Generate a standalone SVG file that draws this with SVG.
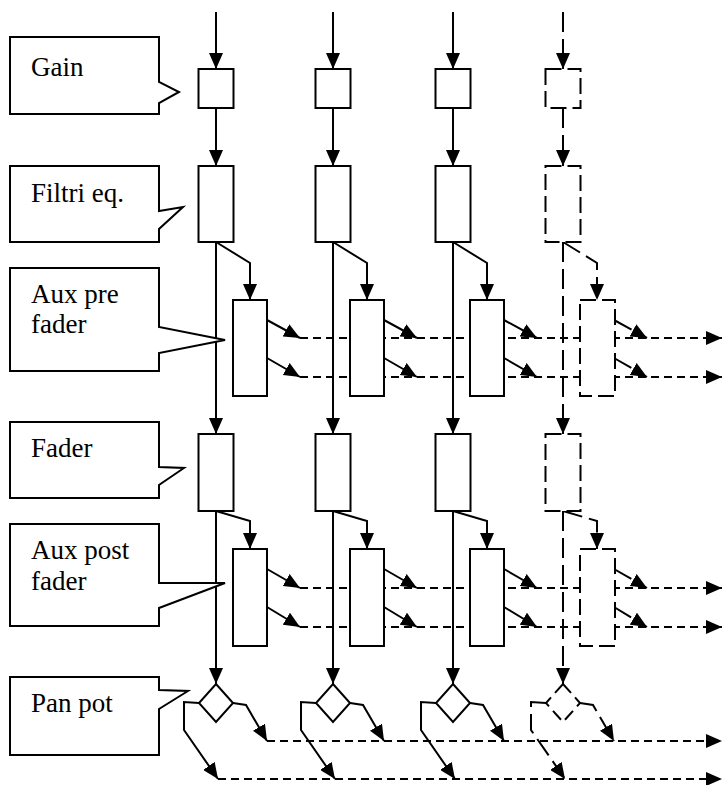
<svg xmlns="http://www.w3.org/2000/svg" width="722" height="785" viewBox="0 0 722 785">
<style>
.c{fill:none;stroke:#000;stroke-width:2}
.bus{stroke-dasharray:8 5}
.dl{stroke-dasharray:20 7}
.box{fill:#fff;stroke:#000;stroke-width:2}
.dbox{fill:#fff;stroke:#000;stroke-width:2;stroke-dasharray:16 6}
.call{fill:#fff;stroke:#000;stroke-width:2;stroke-linejoin:miter}
.t{font-family:'Liberation Serif','Times New Roman',serif;font-size:27px;fill:#000}
</style>
<defs>
<marker id="ah" markerUnits="userSpaceOnUse" markerWidth="16" markerHeight="14" refX="16" refY="7" orient="auto" viewBox="0 0 16 14">
<path d="M0,0 L16,7 L0,14 Z" fill="#000"/>
</marker>
</defs>
<g id="connectors">
<path class="c bus" marker-end="url(#ah)" d="M300,338 H722"/>
<path class="c bus" marker-end="url(#ah)" d="M300,377 H722"/>
<path class="c bus" marker-end="url(#ah)" d="M300,588 H722"/>
<path class="c bus" marker-end="url(#ah)" d="M300,627 H722"/>
<path class="c bus" marker-end="url(#ah)" d="M267,741 H722"/>
<path class="c bus" marker-end="url(#ah)" d="M218,779 H722"/>
<g id="col1-links">
<path class="c" marker-end="url(#ah)" d="M216,12 V69"/>
<path class="c" marker-end="url(#ah)" d="M216,108 V166"/>
<path class="c" marker-end="url(#ah)" d="M216,242 V434"/>
<path class="c" marker-end="url(#ah)" d="M216,242 L250,263 V300"/>
<path class="c" marker-end="url(#ah)" d="M267,320 L300,338"/>
<path class="c" marker-end="url(#ah)" d="M267,358 L300,377"/>
<path class="c" marker-end="url(#ah)" d="M216,511 V684"/>
<path class="c" marker-end="url(#ah)" d="M216,511 L250,521 V549"/>
<path class="c" marker-end="url(#ah)" d="M267,569 L300,588"/>
<path class="c" marker-end="url(#ah)" d="M267,607 L300,627"/>
<path class="c" marker-end="url(#ah)" d="M199,703 L184,702 V730 L218,779"/>
<path class="c" marker-end="url(#ah)" d="M233,703 L246,705 L267,741"/>
</g>
<g id="col2-links" transform="translate(117,0)">
<path class="c" marker-end="url(#ah)" d="M216,12 V69"/>
<path class="c" marker-end="url(#ah)" d="M216,108 V166"/>
<path class="c" marker-end="url(#ah)" d="M216,242 V434"/>
<path class="c" marker-end="url(#ah)" d="M216,242 L250,263 V300"/>
<path class="c" marker-end="url(#ah)" d="M267,320 L300,338"/>
<path class="c" marker-end="url(#ah)" d="M267,358 L300,377"/>
<path class="c" marker-end="url(#ah)" d="M216,511 V684"/>
<path class="c" marker-end="url(#ah)" d="M216,511 L250,521 V549"/>
<path class="c" marker-end="url(#ah)" d="M267,569 L300,588"/>
<path class="c" marker-end="url(#ah)" d="M267,607 L300,627"/>
<path class="c" marker-end="url(#ah)" d="M199,703 L184,702 V730 L218,779"/>
<path class="c" marker-end="url(#ah)" d="M233,703 L246,705 L267,741"/>
</g>
<g id="col3-links" transform="translate(237,0)">
<path class="c" marker-end="url(#ah)" d="M216,12 V69"/>
<path class="c" marker-end="url(#ah)" d="M216,108 V166"/>
<path class="c" marker-end="url(#ah)" d="M216,242 V434"/>
<path class="c" marker-end="url(#ah)" d="M216,242 L250,263 V300"/>
<path class="c" marker-end="url(#ah)" d="M267,320 L300,338"/>
<path class="c" marker-end="url(#ah)" d="M267,358 L300,377"/>
<path class="c" marker-end="url(#ah)" d="M216,511 V684"/>
<path class="c" marker-end="url(#ah)" d="M216,511 L250,521 V549"/>
<path class="c" marker-end="url(#ah)" d="M267,569 L300,588"/>
<path class="c" marker-end="url(#ah)" d="M267,607 L300,627"/>
<path class="c" marker-end="url(#ah)" d="M199,703 L184,702 V730 L218,779"/>
<path class="c" marker-end="url(#ah)" d="M233,703 L246,705 L267,741"/>
</g>
<g id="col4-links" transform="translate(347,0)">
<path class="c dl" marker-end="url(#ah)" d="M216,12 V69"/>
<path class="c dl" marker-end="url(#ah)" d="M216,108 V166"/>
<path class="c dl" marker-end="url(#ah)" d="M216,242 V434"/>
<path class="c dl" marker-end="url(#ah)" d="M216,242 L250,263 V300"/>
<path class="c dl" marker-end="url(#ah)" d="M267,320 L300,338"/>
<path class="c dl" marker-end="url(#ah)" d="M267,358 L300,377"/>
<path class="c dl" marker-end="url(#ah)" d="M216,511 V684"/>
<path class="c dl" marker-end="url(#ah)" d="M216,511 L250,521 V549"/>
<path class="c dl" marker-end="url(#ah)" d="M267,569 L300,588"/>
<path class="c dl" marker-end="url(#ah)" d="M267,607 L300,627"/>
<path class="c dl" marker-end="url(#ah)" d="M199,703 L184,702 V730 L218,779"/>
<path class="c dl" marker-end="url(#ah)" d="M233,703 L246,705 L267,741"/>
</g>
</g>
<g id="callout-gain"><path class="call" d="M10,37 H159 V82 L179,92 L159,103 V114 H10 Z"/><text class="t" x="31" y="76">Gain</text></g>
<g id="callout-filtri"><path class="call" d="M10,166 H159 V211 L183,207 L159,229 V242 H10 Z"/><text class="t" x="31" y="202">Filtri eq.</text></g>
<g id="callout-auxpre"><path class="call" d="M10,268 H159 V327 L225,340 L159,353 V371 H10 Z"/><text class="t" x="31" y="303">Aux pre</text><text class="t" x="31" y="333">fader</text></g>
<g id="callout-fader"><path class="call" d="M10,422 H159 V467 L184,468 L159,485 V498 H10 Z"/><text class="t" x="31" y="457">Fader</text></g>
<g id="callout-auxpost"><path class="call" d="M10,524 H159 V583 L225,583 L159,608 V626 H10 Z"/><text class="t" x="31" y="559">Aux post</text><text class="t" x="31" y="590">fader</text></g>
<g id="callout-panpot"><path class="call" d="M10,677 H159 V690 L188,691 L159,709 V755 H10 Z"/><text class="t" x="31" y="712">Pan pot</text></g>
<g id="c1-gain"><rect class="box" x="198.5" y="69" width="35" height="39"/></g>
<g id="c1-filtri"><rect class="box" x="198.5" y="166" width="35" height="76"/></g>
<g id="c1-auxpre"><rect class="box" x="233" y="300" width="34" height="96"/></g>
<g id="c1-fader"><rect class="box" x="198.5" y="434" width="35" height="77"/></g>
<g id="c1-auxpost"><rect class="box" x="233" y="549" width="34" height="97"/></g>
<g id="c1-pan"><path class="box" d="M216,684 L233,703 L216,722 L199,703 Z"/></g>
<g id="c2-gain"><rect class="box" x="315.5" y="69" width="35" height="39"/></g>
<g id="c2-filtri"><rect class="box" x="315.5" y="166" width="35" height="76"/></g>
<g id="c2-auxpre"><rect class="box" x="350" y="300" width="34" height="96"/></g>
<g id="c2-fader"><rect class="box" x="315.5" y="434" width="35" height="77"/></g>
<g id="c2-auxpost"><rect class="box" x="350" y="549" width="34" height="97"/></g>
<g id="c2-pan"><path class="box" d="M333,684 L350,703 L333,722 L316,703 Z"/></g>
<g id="c3-gain"><rect class="box" x="435.5" y="69" width="35" height="39"/></g>
<g id="c3-filtri"><rect class="box" x="435.5" y="166" width="35" height="76"/></g>
<g id="c3-auxpre"><rect class="box" x="470" y="300" width="34" height="96"/></g>
<g id="c3-fader"><rect class="box" x="435.5" y="434" width="35" height="77"/></g>
<g id="c3-auxpost"><rect class="box" x="470" y="549" width="34" height="97"/></g>
<g id="c3-pan"><path class="box" d="M453,684 L470,703 L453,722 L436,703 Z"/></g>
<g id="c4-gain"><rect class="dbox" x="545.5" y="69" width="35" height="39"/></g>
<g id="c4-filtri"><rect class="dbox" x="545.5" y="166" width="35" height="76"/></g>
<g id="c4-auxpre"><rect class="dbox" x="580" y="300" width="35" height="96"/></g>
<g id="c4-fader"><rect class="dbox" x="545.5" y="434" width="35" height="77"/></g>
<g id="c4-auxpost"><rect class="dbox" x="580" y="549" width="35" height="97"/></g>
<g id="c4-pan"><path class="dbox" style="stroke-dasharray:12 6" d="M563,684 L580,703 L563,722 L546,703 Z"/></g>
</svg>
